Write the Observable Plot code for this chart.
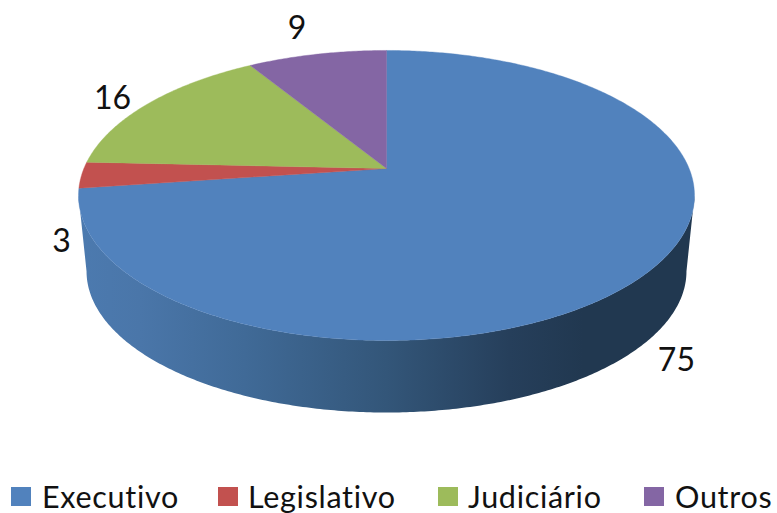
<!DOCTYPE html>
<html><head><meta charset="utf-8">
<script src="https://cdn.jsdelivr.net/npm/d3@7"></script>
<script src="https://cdn.jsdelivr.net/npm/@observablehq/plot@0.6"></script>
<style>
html,body{margin:0;padding:0;background:#fff;width:777px;height:513px;overflow:hidden}
#chart svg{display:block}
#legend{position:relative;height:43px;font-family:Lato,sans-serif;font-size:30.5px;letter-spacing:.7px;font-variant-ligatures:none;color:#111}
#legend .sw{position:absolute;top:17px;width:20px;height:19px}
#legend .tx{position:absolute;top:8px;line-height:36px;white-space:nowrap}
</style></head><body>
<div id="chart"></div><div id="legend"></div>
<script>
const categories = ["Executivo","Legislativo","Judiciário","Outros"];
const values = [75,3,16,9];
const colors = ["#5182bd","#c2514f","#9dbb5b","#8466a4"];
const labelDx = [30,-20,-36,-20];
const labelDy = [87,67,-5,-25];
const legendSwatchX = [11,218,438,644];
const legendTextX = [42,248,468,675];

const W = 777, H = 470, cx = 386, cy = 168, A = 302.6, B = 140, p = 0.186;
const lowerScale = 0.974, depth = 76.5 / B;
const total = d3.sum(values);
const proj = (t, s = 1, d = 0) => {
  const u = Math.sin(t), v = Math.cos(t), w = 1 + p * v;
  return {x: s * u / w, y: s * v / w - d};
};
const arcPts = (t0, t1, s, d) => {
  const n = Math.max(2, Math.ceil(Math.abs(t1 - t0) / 0.01));
  return d3.range(n + 1).map(i => proj(t0 + (t1 - t0) * i / n, s, d));
};
let acc = 0;
const slices = values.map((val, i) => {
  const t0 = acc / total * 2 * Math.PI; acc += val;
  const t1 = acc / total * 2 * Math.PI;
  return {i, t0, t1, mid: proj((t0 + t1) / 2),
    pts: [{x: 0, y: 0}, ...arcPts(t0, t1, 1, 0), {x: 0, y: 0}]};
});
const tR = Math.PI - Math.asin(Math.sqrt(1 - p * p)), tL = 2 * Math.PI - tR;
const side = [...arcPts(tR, tL, 1, 0), ...arcPts(tL, tR, lowerScale, depth)];

const defs = () => {
  const s = d3.create("svg:defs");
  const g = s.append("linearGradient").attr("id","sideGrad").attr("gradientUnits","userSpaceOnUse")
    .attr("x1",78).attr("x2",694).attr("y1",0).attr("y2",0);
  [[0,"#4c7aaf"],[0.1,"#4a76a9"],[0.27,"#406a97"],[0.5,"#335679"],[0.7,"#263f5b"],[0.82,"#213850"],[1,"#213850"]]
    .forEach(([o,c]) => g.append("stop").attr("offset",o).attr("stop-color",c));
  return s.node();
};

const plot = Plot.plot({
  width: W, height: H, margin: 0,
  x: {domain: [-cx / A, (W - cx) / A], range: [0, W], axis: null},
  y: {domain: [(cy - H) / B, cy / B], range: [H, 0], axis: null},
  marks: [
    defs,
    Plot.line(side, {x: "x", y: "y", fill: "url(#sideGrad)", stroke: "none"}),
    ...slices.map(s => Plot.line(s.pts, {x: "x", y: "y", fill: colors[s.i], stroke: colors[s.i], strokeWidth: 0.4})),
    ...slices.map(s => Plot.text([s.mid], {x: "x", y: "y", text: () => String(values[s.i]),
      dx: labelDx[s.i], dy: labelDy[s.i], fontSize: 32, fontFamily: "Lato, sans-serif", fill: "#111"}))
  ]
});
document.getElementById("chart").append(plot);
const lg = document.getElementById("legend");
categories.forEach((c, i) => {
  const sw = document.createElement("div"); sw.className = "sw";
  sw.style.left = legendSwatchX[i] + "px"; sw.style.background = colors[i];
  const tx = document.createElement("div"); tx.className = "tx";
  tx.style.left = legendTextX[i] + "px"; tx.textContent = c;
  lg.append(sw, tx);
});
</script></body></html>
